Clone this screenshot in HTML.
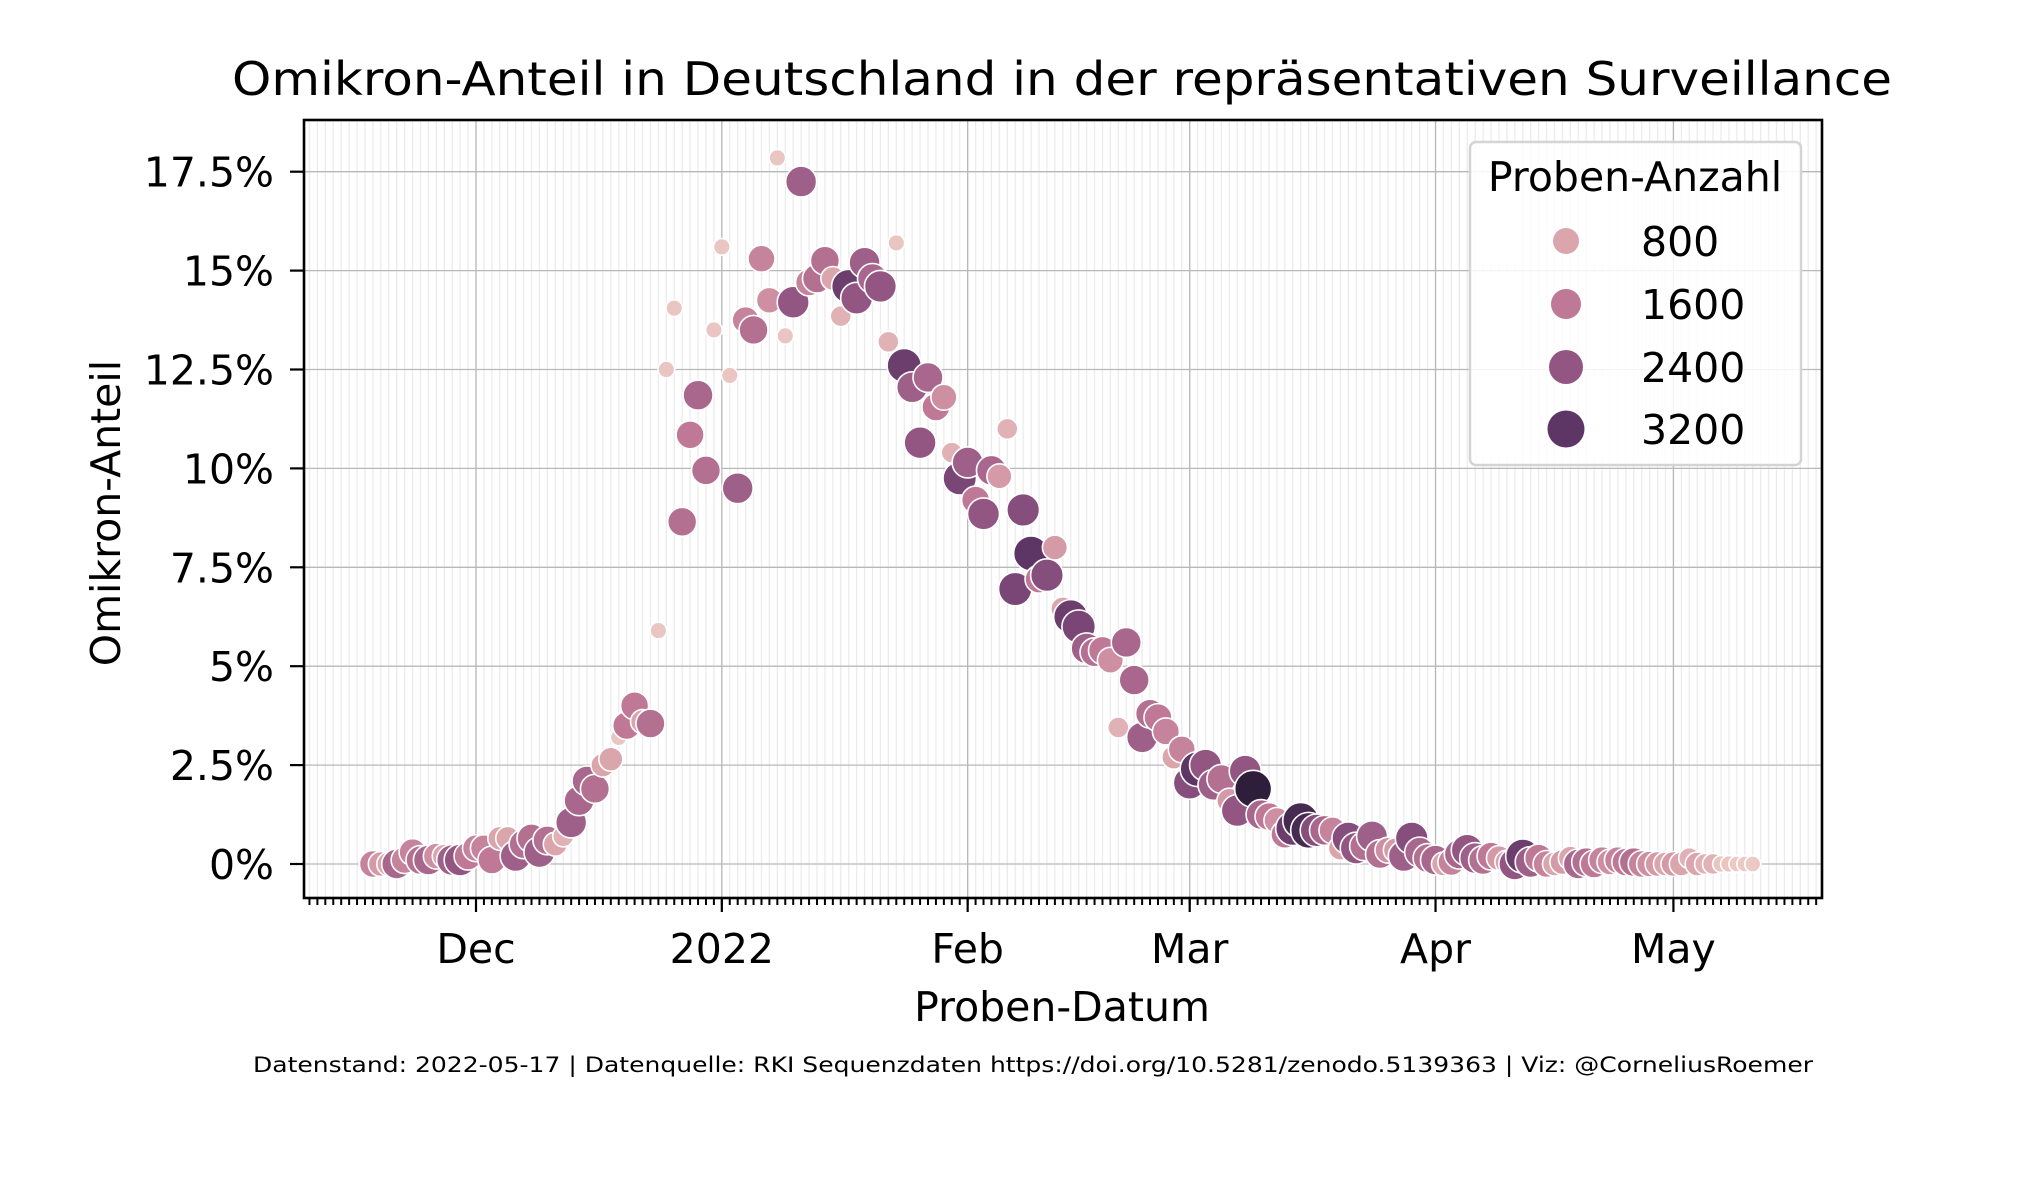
<!DOCTYPE html>
<html><head><meta charset="utf-8"><style>
html,body{margin:0;padding:0;background:#fff}
svg{display:block;font-family:"DejaVu Sans","Liberation Sans",sans-serif}
</style></head><body>
<svg id="chart" width="2025" height="1200" viewBox="0 0 2025 1200" xmlns="http://www.w3.org/2000/svg">
<rect width="2025" height="1200" fill="#fff"/>
<text x="1062" y="95" font-size="46" text-anchor="middle" textLength="1660" lengthAdjust="spacingAndGlyphs">Omikron-Anteil in Deutschland in der repräsentativen Surveillance</text>
<g id="grid"></g>
<g id="marks"></g>
<g id="axes"></g>
<text x="1062" y="1021" font-size="41" text-anchor="middle">Proben-Datum</text>
<text x="0" y="0" font-size="41" text-anchor="middle" transform="translate(120,513) rotate(-90)">Omikron-Anteil</text>
<text x="1033" y="1072" font-size="21" text-anchor="middle" textLength="1560" lengthAdjust="spacingAndGlyphs">Datenstand: 2022-05-17 | Datenquelle: RKI Sequenzdaten https://doi.org/10.5281/zenodo.5139363 | Viz: @CorneliusRoemer</text>
<g id="legend"></g>
</svg>
<script>
// ---- data ----
const firstDay = -13; // days relative to 2021-12-01 (first point 2021-11-18)
const shares = [0,0,0,0,0.1,0.3,0.1,0.1,0.2,0.2,0.1,0.1,0.2,
0.4,0.4,0.1,0.65,0.65,0.2,0.5,0.65,0.3,0.6,0.5,0.7,1.05,1.6,2.1,1.9,2.5,2.65,3.2,3.5,4.0,3.6,3.55,5.9,12.5,14.05,8.65,10.85,11.85,9.95,13.5,15.6,12.35,
9.5,13.75,13.5,15.3,14.25,17.85,13.35,14.2,17.25,14.7,14.8,15.25,14.8,13.85,14.6,14.3,15.2,14.8,14.6,13.2,15.7,12.6,12.05,10.65,12.3,11.55,11.8,10.4,9.75,
10.15,9.2,8.85,9.95,9.8,11.0,6.95,8.95,7.85,7.2,7.3,8.0,6.45,6.25,6.0,5.45,5.35,5.4,5.15,3.45,5.6,4.65,3.2,3.8,3.7,3.35,2.7,2.9,
2.05,2.4,2.5,2.0,2.15,1.6,1.35,2.35,1.9,1.25,1.2,1.1,0.75,0.9,1.1,0.85,0.85,0.85,0.85,0.4,0.65,0.4,0.45,0.7,0.25,0.35,0.35,0.2,0.65,0.3,0.15,
0.1,0.0,0.05,0.25,0.35,0.15,0.1,0.2,0.15,0.05,0.0,0.2,0.05,0.15,0.0,0.0,0.05,0.15,0.0,0.05,0.0,0.1,0.05,0.1,0.05,0.05,0.0,0.0,0.0,0.0,
0.0,0.0,0.15,0.0,0.0,0.0,0.0,0.0,0.0,0.0,0.0];
const counts = [1400,1000,800,2000,1400,1400,1800,2000,1200,800,2200,2400,1600,
1400,1400,1600,800,800,2200,1800,1800,2200,1800,800,600,2200,2000,2000,1800,800,800,300,1600,1600,800,1800,300,300,300,1800,1600,2000,1800,300,300,300,
2200,1400,1800,1400,1200,300,300,2400,2200,1400,1800,1800,800,600,3000,2400,2200,2000,2400,600,300,3000,2200,2400,2000,1600,1200,600,2800,
2200,1600,2400,2000,1000,600,2800,2600,3200,1600,2600,1000,800,3000,2800,2200,1800,1600,1200,600,2000,2000,2200,1800,1600,1400,800,1400,
2600,3200,2400,2200,1800,1000,2400,2400,3600,2000,1600,1200,1600,3000,3400,3400,2600,2000,1400,800,2600,2400,1800,2200,1800,1200,1000,2200,2600,2000,1800,
2000,800,1400,2000,2400,2200,1800,1600,1000,800,2400,3000,2200,1600,1400,800,1000,800,2000,1800,1600,1400,1200,1400,1600,1800,1400,1200,1000,800,
1000,800,600,800,600,600,300,300,250,250,250];
const yTicks = [0,2.5,5,7.5,10,12.5,15,17.5];
const yTickLabels = ['0%','2.5%','5%','7.5%','10%','12.5%','15%','17.5%'];
const monthDays = [0,31,62,90,121,151];
const monthLabels = ['Dec','2022','Feb','Mar','Apr','May'];
const legendCounts = [800,1600,2400,3200];

// ---- scales ----
const L=304,R=1822,T=120,B=898;
const xs = d => 476 + d*7.93;
const ys = v => 864 - v*(98.9/2.5);
const stops=[[250,'#ecc9c5',8],[800,'#dba5ac',12],[1600,'#bf7896',14],[2400,'#935683',16],[3200,'#5e3666',17.5],[3600,'#2e1e3c',18.5]];
function hex(h){return [1,3,5].map(i=>parseInt(h.substr(i,2),16));}
function interp(n){
  if(n<=stops[0][0]) return {c:stops[0][1],r:stops[0][2]};
  for(let i=1;i<stops.length;i++){
    if(n<=stops[i][0]){const a=stops[i-1],b=stops[i],t=(n-a[0])/(b[0]-a[0]);
      const ca=hex(a[1]),cb=hex(b[1]);
      const c='rgb('+ca.map((v,k)=>Math.round(v+(cb[k]-v)*t)).join(',')+')';
      return {c:c,r:a[2]+(b[2]-a[2])*t};}
  }
  const s=stops[stops.length-1];return {c:s[1],r:s[2]};
}
const NS='http://www.w3.org/2000/svg';
function mk(tag,attrs,parent){const e=document.createElementNS(NS,tag);for(const k in attrs)e.setAttribute(k,attrs[k]);parent.appendChild(e);return e;}

// grid
const grid=document.getElementById('grid');
for(let d=-21;d<=169;d++){
  const g=mk('line',{x1:xs(d),x2:xs(d),y1:T,y2:B,stroke:'#ececec','stroke-width':1.3},grid);
  
  
}
monthDays.forEach(d=>{
  const g=mk('line',{x1:xs(d),x2:xs(d),y1:T,y2:B,stroke:'#b8b8b8','stroke-width':1.3},grid);
  
  
});
yTicks.forEach(v=>{
  const g=mk('line',{x1:L,x2:R,y1:ys(v),y2:ys(v),stroke:'#b8b8b8','stroke-width':1.3},grid);
  
  
});

// points
const marks=document.getElementById('marks');
shares.forEach((v,i)=>{
  const m=interp(counts[i]);
  const c=mk('circle',{cx:xs(firstDay+i),cy:ys(v),r:m.r,fill:m.c,stroke:'#fff','stroke-width':1.6},marks);
  
  
});

// axes
const axes=document.getElementById('axes');
const frame=mk('rect',{x:L,y:T,width:R-L,height:B-T,fill:'none',stroke:'#000','stroke-width':2.6},axes);


for(let d=-21;d<=169;d++){
  const t=mk('line',{x1:xs(d),x2:xs(d),y1:B,y2:B+7,stroke:'#000','stroke-width':2},axes);
  
  
}
monthDays.forEach((d,i)=>{
  const t=mk('line',{x1:xs(d),x2:xs(d),y1:B,y2:B+14,stroke:'#000','stroke-width':2.2},axes);
  
  
  const l=mk('text',{x:xs(d),y:963,'font-size':41,'text-anchor':'middle'},axes);
  l.textContent=monthLabels[i];
  
  
});
yTicks.forEach((v,i)=>{
  const t=mk('line',{x1:L-14,x2:L,y1:ys(v),y2:ys(v),stroke:'#000','stroke-width':2.2},axes);
  
  
  const l=mk('text',{x:274,y:ys(v)+15,'font-size':41,'text-anchor':'end'},axes);
  l.textContent=yTickLabels[i];
  
  
});

// legend
const lg=document.getElementById('legend');
const box=mk('rect',{x:1470,y:142,width:331,height:323,rx:6,fill:'#fff','fill-opacity':0.85,stroke:'#d4d4d4','stroke-width':2.5},lg);


const lt=mk('text',{x:1635,y:191,'font-size':41,'text-anchor':'middle'},lg);
lt.textContent='Proben-Anzahl';


legendCounts.forEach((n,i)=>{
  const cy=[241,304,367,429][i];
  const m=interp(n);
  const c=mk('circle',{cx:1566,cy:cy,r:m.r+1,fill:m.c},lg);
  
  
  const t=mk('text',{x:1641,y:cy+15,'font-size':41},lg);
  t.textContent=String(n);
  
  
});
</script>
</body></html>
